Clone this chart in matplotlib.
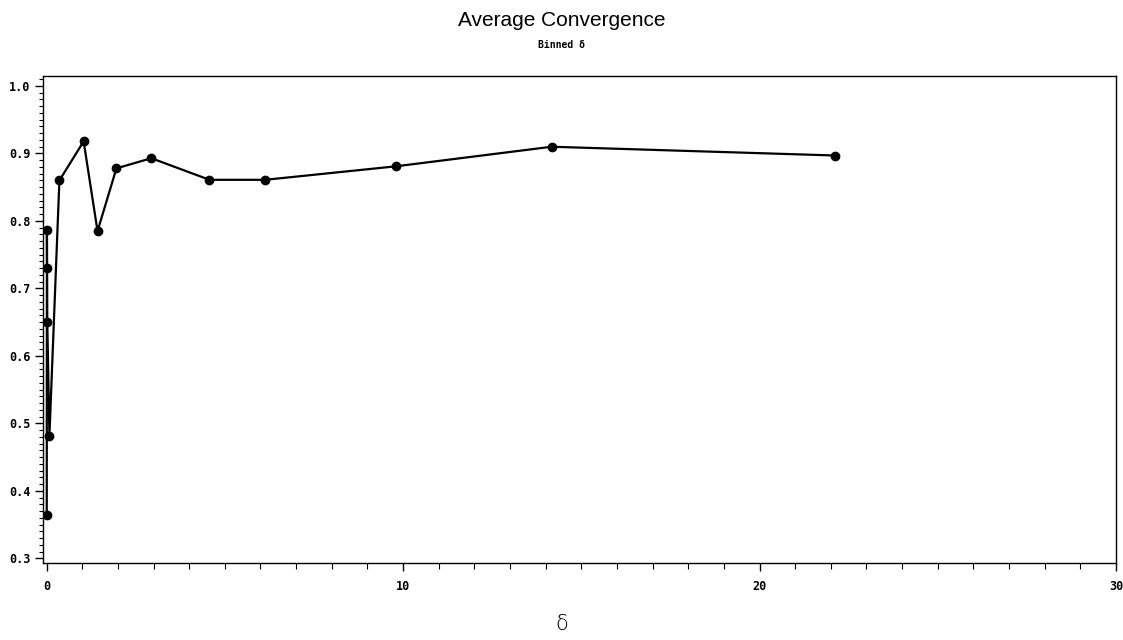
import matplotlib
matplotlib.use("Agg")
import matplotlib.pyplot as plt
from matplotlib.ticker import MultipleLocator, FormatStrFormatter

# Data (binned delta vs average convergence)
delta = [0.005, 0.01, 0.015, 0.02, 0.08, 0.36, 1.04, 1.43, 1.96, 2.94,
         4.57, 6.13, 9.80, 14.17, 22.13]
convergence = [0.365, 0.787, 0.730, 0.650, 0.482, 0.860, 0.918, 0.785, 0.878,
               0.893, 0.861, 0.861, 0.881, 0.910, 0.897]

x_ticks = [0, 10, 20, 30]
y_ticks = [0.3, 0.4, 0.5, 0.6, 0.7, 0.8, 0.9, 1.0]

fig = plt.figure(figsize=(11.23, 6.40), dpi=100)
ax = fig.add_axes([43 / 1123, 1 - 563 / 640, (1116 - 43) / 1123, (563 - 76) / 640])

ax.plot(delta, convergence, color="black", linewidth=1.6, marker="o",
        markersize=6, markerfacecolor="black", markeredgecolor="black")

ax.set_xlim(-0.1, 30)
ax.set_ylim(0.2933, 1.0148)
ax.set_xticks(x_ticks)
ax.set_yticks(y_ticks)
ax.xaxis.set_minor_locator(MultipleLocator(1))
ax.yaxis.set_minor_locator(MultipleLocator(0.01))
ax.yaxis.set_major_formatter(FormatStrFormatter("%.1f"))

for lab in ax.get_xticklabels() + ax.get_yticklabels():
    lab.set_fontfamily("DejaVu Sans Mono")
    lab.set_fontweight("bold")
    lab.set_fontsize(8.5)

ax.tick_params(axis="both", which="major", direction="out", length=6, width=1, colors="black")
ax.tick_params(axis="x", which="minor", direction="out", length=4, width=0.8, colors="black")
ax.tick_params(axis="y", which="minor", direction="out", length=3, width=0.8, colors="black")
ax.tick_params(axis="x", which="major", pad=6)
ax.tick_params(axis="y", which="major", pad=3)

for sp in ax.spines.values():
    sp.set_linewidth(1.0)
    sp.set_color("black")

fig.text(562 / 1123, 1 - 624 / 640, "δ", ha="center", va="center",
         fontsize=15, fontweight="light", family="DejaVu Sans")

fig.text(0.5, 1 - 20 / 640, "Average Convergence", ha="center", va="center",
         fontsize=15, family="Liberation Sans")
fig.text(0.5, 1 - 45 / 640, "Binned δ", ha="center", va="center",
         fontsize=7, fontweight="bold", family="DejaVu Sans Mono")

fig.savefig("out.png", dpi=100, facecolor="white")
